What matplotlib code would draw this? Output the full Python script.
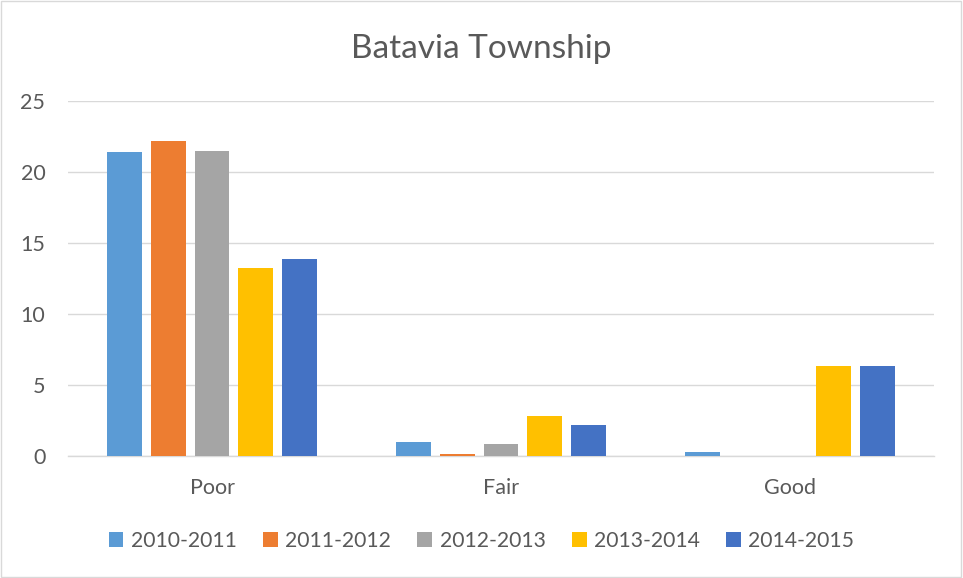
import numpy as np
import matplotlib.pyplot as plt
from matplotlib.patches import Rectangle

plt.rcParams['font.family'] = ['Lato', 'DejaVu Sans']

categories = ['Poor', 'Fair', 'Good']
series_names = ['2010-2011', '2011-2012', '2012-2013', '2013-2014', '2014-2015']
values = {
    '2010-2011': [21.38, 0.94, 0.26],
    '2011-2012': [22.18, 0.14, 0.0],
    '2012-2013': [21.47, 0.85, 0.0],
    '2013-2014': [13.2, 2.82, 6.32],
    '2014-2015': [13.86, 2.16, 6.32],
}
colors = ['#5b9bd5', '#ed7d31', '#a5a5a5', '#ffc000', '#4472c4']

fig = plt.figure(figsize=(9.63, 5.78), dpi=100)
ax = fig.add_axes([0.0701, 0.2116, 0.9003, 0.6137])

x = np.arange(len(categories))
bar_w = 0.121
step = 0.152
for i, name in enumerate(series_names):
    offs = (i - 2) * step
    ax.bar(x + offs, values[name], width=bar_w, color=colors[i], label=name,
           zorder=3)

ax.set_xlim(-0.5, 2.5)
ax.set_ylim(0, 25)
ax.set_yticks(np.arange(0, 26, 5))
ax.set_xticks(x)
ax.set_xticklabels(categories)
ax.grid(axis='y', color='#d9d9d9', linewidth=1, zorder=0)
for s in ['top', 'right', 'left']:
    ax.spines[s].set_visible(False)
ax.spines['bottom'].set_color('#d9d9d9')
ax.spines['bottom'].set_linewidth(1)
ax.tick_params(axis='both', length=0, labelsize=15.5, labelcolor='#595959')
ax.tick_params(axis='x', pad=16)
ax.tick_params(axis='y', pad=16)

fig.text(0.5, 0.915, 'Batavia Township', ha='center', va='center',
         fontsize=24, color='#595959')

fig.legend(loc='center', bbox_to_anchor=(0.5, 0.064), ncol=5, frameon=False,
           fontsize=15.2, labelcolor='#595959', handlelength=0.7, handleheight=0.7,
           handletextpad=0.35, columnspacing=1.25)

fig.patches.append(Rectangle((0.001, 0.001), 0.997, 0.997, transform=fig.transFigure,
                             fill=False, edgecolor='#d9d9d9', linewidth=1))

fig.savefig('out.png', dpi=100)
